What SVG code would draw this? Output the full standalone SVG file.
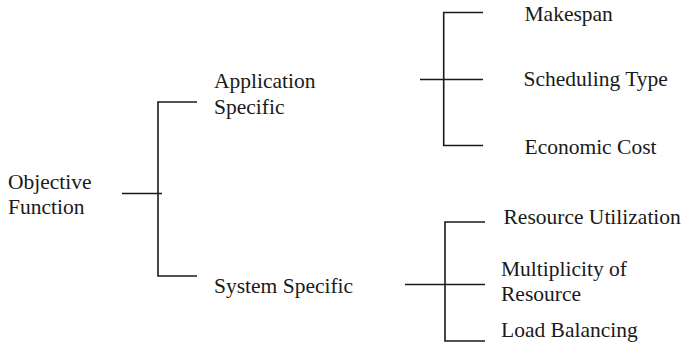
<svg xmlns="http://www.w3.org/2000/svg" width="684" height="347" viewBox="0 0 684 347">
  <style>
    .lbl { font-family: "Liberation Serif", "Times New Roman", serif; font-size: 21.5px; fill: #1a1a1a; }
    .ln { stroke: #1a1a1a; stroke-width: 1.6; fill: none; }
  </style>
  <rect width="684" height="347" fill="#ffffff"/>

  <g id="connectors">
    <!-- root bracket -->
    <path class="ln" d="M122,193.5 H162 M197,102 H158 V276 H197"/>
    <!-- application specific bracket -->
    <path class="ln" d="M420,79.5 H483 M483,12.5 H443.7 V145.5 H483"/>
    <!-- system specific bracket -->
    <path class="ln" d="M405,284.5 H485 M485,222 H445 V341 H485"/>
  </g>

  <g id="objective-function">
    <text class="lbl" x="8" y="189">Objective</text>
    <text class="lbl" x="8" y="214">Function</text>
  </g>
  <g id="application-specific">
    <text class="lbl" x="214" y="88">Application</text>
    <text class="lbl" x="214" y="114">Specific</text>
  </g>
  <g id="system-specific">
    <text class="lbl" x="214" y="293">System Specific</text>
  </g>
  <g id="makespan">
    <text class="lbl" x="524.5" y="21">Makespan</text>
  </g>
  <g id="scheduling-type">
    <text class="lbl" x="523.5" y="86">Scheduling Type</text>
  </g>
  <g id="economic-cost">
    <text class="lbl" x="524.5" y="154">Economic Cost</text>
  </g>
  <g id="resource-utilization">
    <text class="lbl" x="503.5" y="224">Resource Utilization</text>
  </g>
  <g id="multiplicity-of-resource">
    <text class="lbl" x="501" y="276">Multiplicity of</text>
    <text class="lbl" x="501" y="301">Resource</text>
  </g>
  <g id="load-balancing">
    <text class="lbl" x="501" y="337">Load Balancing</text>
  </g>
</svg>
